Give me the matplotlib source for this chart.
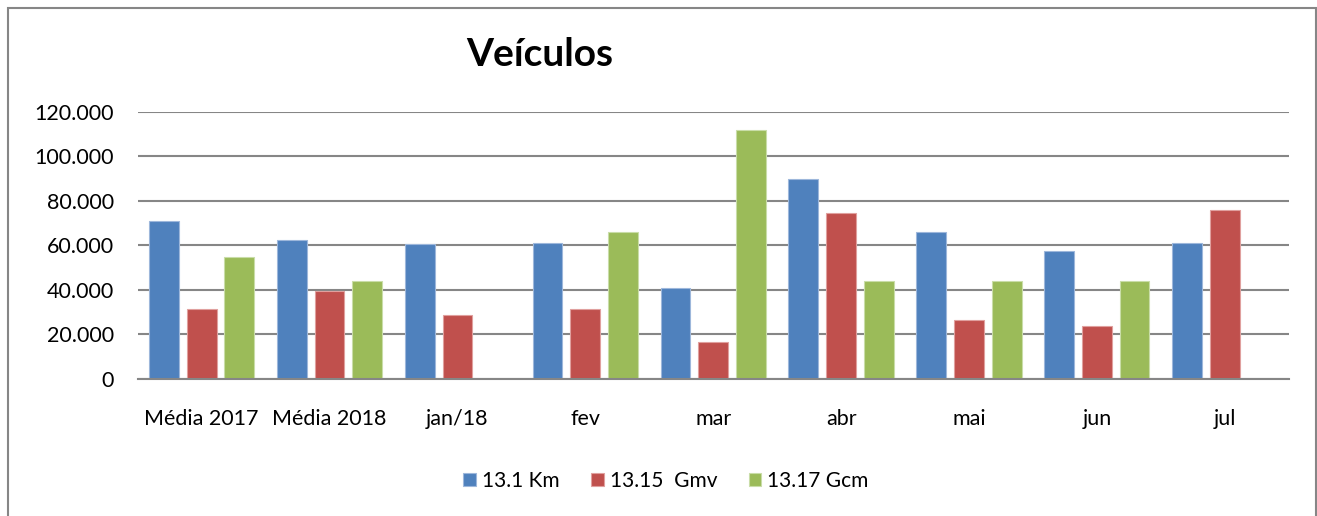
import numpy as np
import matplotlib
matplotlib.use("Agg")
import matplotlib.pyplot as plt
from matplotlib.patches import Rectangle
from matplotlib.ticker import FuncFormatter

categories = ["Média 2017", "Média 2018", "jan/18", "fev", "mar", "abr", "mai", "jun", "jul"]
km = [70800, 62300, 60500, 61100, 41000, 90000, 65900, 57300, 60900]
gmv = [31400, 39600, 28700, 31200, 16400, 74600, 26300, 23700, 75900]
gcm = [54800, 44100, np.nan, 65900, 111900, 43800, 43800, 43800, np.nan]
series_names = ["13.1 Km", "13.15  Gmv", "13.17 Gcm"]
colors = ["#4F81BD", "#C0504D", "#9BBB59"]
edge_colors = ["#9DB7DB", "#E0A09E", "#C9DDA8"]
yticks = [0, 20000, 40000, 60000, 80000, 100000, 120000]

plt.rcParams['font.family'] = ['Lato', 'DejaVu Sans']

W, H = 1317, 516
fig = plt.figure(figsize=(W / 100, H / 100), dpi=100)
ax = fig.add_axes([137.7 / W, 1 - 378.7 / H, (1288.7 - 137.7) / W, (378.7 - 112) / H])

x = np.arange(len(categories))
step = 0.295
width = 0.233
for i, (vals, c, ec, name) in enumerate(zip([km, gmv, gcm], colors, edge_colors, series_names)):
    ax.bar(x + (i - 1) * step, vals, width=width, color=c, edgecolor=ec, linewidth=0.8, label=name, zorder=3)

ax.set_xlim(-0.5, len(categories) - 0.5)
ax.set_ylim(0, 120000)
ax.set_yticks(yticks)
ax.yaxis.set_major_formatter(FuncFormatter(lambda v, p: "0" if v == 0 else f"{int(v):,}".replace(",", ".")))
ax.set_xticks(x)
ax.set_xticklabels(categories)
ax.grid(axis='y', color='#868686', linewidth=1.5, zorder=0)
for s in ['left', 'right', 'top']:
    ax.spines[s].set_visible(False)
ax.spines['bottom'].set_color('#868686')
ax.spines['bottom'].set_linewidth(1.5)
ax.spines['bottom'].set_zorder(4)
ax.tick_params(axis='both', length=0, colors='black')
ax.tick_params(axis='x', pad=22, labelsize=15.5)
ax.tick_params(axis='y', pad=17, labelsize=15.5)

fig.text(540 / W, 1 - 55 / H, "Veículos", fontsize=28, fontweight='bold', ha='center', va='center')

fig.legend(loc='center', bbox_to_anchor=(666 / W, 1 - 481 / H), ncol=3, frameon=False,
           fontsize=15, handlelength=0.6, handleheight=0.6, handletextpad=0.3, columnspacing=1.5)

fig.patches.append(Rectangle((8 / W, -0.05), (1316 - 8) / W, 1.05 - 8 / H, transform=fig.transFigure,
                             fill=False, edgecolor='#868686', linewidth=1.5))

fig.savefig("out.png", dpi=100)
